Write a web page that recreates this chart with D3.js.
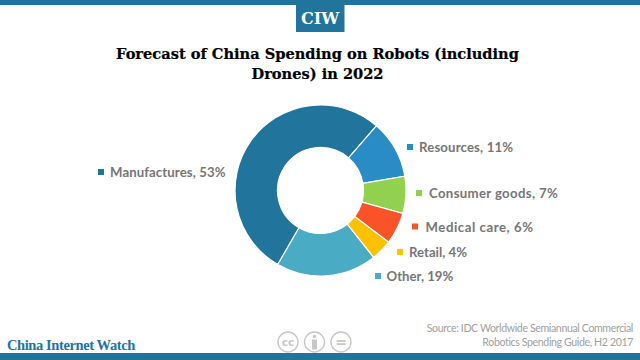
<!DOCTYPE html>
<html>
<head>
<meta charset="utf-8">
<script src="https://cdn.jsdelivr.net/npm/d3@7"></script>
<style>
  html, body { margin: 0; padding: 0; background: #fff; overflow: hidden; }
  svg { display: block; }
</style>
</head>
<body>
<div id="chart"></div>
<script>

const width = 640,
  height = 360;

const categories = [ 'Manufactures', 'Resources', 'Consumer goods', 'Medical care', 'Retail', 'Other' ];
const shares = [ 53, 11, 7, 6, 4, 19 ];

const titleLines = [ 'Forecast of China Spending on Robots (including', 'Drones) in 2022' ];
const sourceLines = [ 'Source: IDC Worldwide Semiannual Commercial', 'Robotics Spending Guide, H2 2017' ];

const colors = [ '#21749b', '#2a8cc4', '#92d050', '#fa5229', '#ffc000', '#4aabc5' ];
const teal = '#21749b';

// hand placed label spots, [ marker x, text x, baseline y, letter spacing ]
const labelSpots = [
  [ 101, 110, 177, 0.1 ],
  [ 410, 419, 152, 0.15 ],
  [ 419, 429, 198, 0.35 ],
  [ 415, 425.5, 231.5, 0.55 ],
  [ 400, 409, 257, 0 ],
  [ 378, 386.5, 281, 0 ]
];

const svg = d3.select( '#chart' )
  .append( 'svg' )
    .attr( 'width', width )
    .attr( 'height', height );

// Top and bottom bands
svg.append( 'rect' )
  .attr( 'width', width )
  .attr( 'height', 5 )
  .attr( 'fill', teal );

svg.append( 'rect' )
  .attr( 'y', 353 )
  .attr( 'width', width )
  .attr( 'height', 7 )
  .attr( 'fill', teal );

// Logo
svg.append( 'rect' )
  .attr( 'x', 296 )
  .attr( 'y', 4 )
  .attr( 'width', 48.5 )
  .attr( 'height', 28 )
  .attr( 'fill', teal );

svg.append( 'text' )
  .attr( 'x', 320 )
  .attr( 'y', 24 )
  .attr( 'text-anchor', 'middle' )
  .attr( 'font-family', '"DejaVu Serif"' )
  .attr( 'font-weight', 'bold' )
  .attr( 'font-size', 16 )
  .attr( 'fill', '#fff' )
  .text( 'CIW' );

// Title
svg.selectAll( 'text.title' )
  .data( titleLines )
  .enter()
    .append( 'text' )
    .attr( 'class', 'title' )
    .attr( 'x', 317.5 )
    .attr( 'y', ( d, i ) => 58.5 + i * 20 )
    .attr( 'text-anchor', 'middle' )
    .attr( 'font-family', '"DejaVu Serif"' )
    .attr( 'font-weight', 'bold' )
    .attr( 'font-size', 14.6 )
    .attr( 'fill', '#000' )
    .attr( 'stroke', '#000' )
    .attr( 'stroke-width', 0.2 )
    .text( d => d );

// Donut, Manufactures starts at 210 degrees clockwise from top
const pie = d3.pie()
  .sort( null )
  .startAngle( 210 * Math.PI / 180 )
  .endAngle( 570 * Math.PI / 180 )
  .value( d => d );

const arc = d3.arc()
  .innerRadius( 43 )
  .outerRadius( 85.5 );

const g = svg.append( 'g' )
  .attr( 'transform', 'translate(320.5,190.5)' );

g.selectAll( 'path' )
  .data( pie( shares ) )
  .enter()
    .append( 'path' )
    .attr( 'd', arc )
    .attr( 'fill', ( d, i ) => colors[ i ] )
    .attr( 'stroke', '#fff' )
    .attr( 'stroke-width', 1.2 );

// Labels
svg.selectAll( 'rect.marker' )
  .data( categories )
  .enter()
    .append( 'rect' )
    .attr( 'class', 'marker' )
    .attr( 'x', ( d, i ) => labelSpots[ i ][ 0 ] - 3 )
    .attr( 'y', ( d, i ) => labelSpots[ i ][ 2 ] - 8 )
    .attr( 'width', 6 )
    .attr( 'height', 6 )
    .attr( 'fill', ( d, i ) => colors[ i ] );

svg.selectAll( 'text.label' )
  .data( categories )
  .enter()
    .append( 'text' )
    .attr( 'class', 'label' )
    .attr( 'x', ( d, i ) => labelSpots[ i ][ 1 ] )
    .attr( 'y', ( d, i ) => labelSpots[ i ][ 2 ] )
    .attr( 'font-family', 'Lato' )
    .attr( 'font-weight', 'bold' )
    .attr( 'font-size', 13.2 )
    .attr( 'letter-spacing', ( d, i ) => labelSpots[ i ][ 3 ] )
    .attr( 'fill', '#767676' )
    .text( ( d, i ) => d + ', ' + shares[ i ] + '%' );

// Footer
svg.append( 'text' )
  .attr( 'x', 7 )
  .attr( 'y', 350 )
  .attr( 'font-family', '"Liberation Serif"' )
  .attr( 'font-weight', 'bold' )
  .attr( 'font-size', 14.5 )
  .attr( 'letter-spacing', -0.4 )
  .attr( 'fill', teal )
  .text( 'China Internet Watch' );

svg.selectAll( 'text.source' )
  .data( sourceLines )
  .enter()
    .append( 'text' )
    .attr( 'class', 'source' )
    .attr( 'x', 633 )
    .attr( 'y', ( d, i ) => 332 + i * 14 )
    .attr( 'text-anchor', 'end' )
    .attr( 'font-family', 'Lato' )
    .attr( 'font-size', 10.6 )
    .attr( 'letter-spacing', -0.38 )
    .attr( 'fill', '#a0a0a0' )
    .text( d => d );

// Licence badges
const badges = [ 'cc', 'by', '=' ];
const badge = svg.selectAll( 'g.badge' )
  .data( badges )
  .enter()
    .append( 'g' )
    .attr( 'class', 'badge' )
    .attr( 'transform', ( d, i ) => 'translate(' + ( 288 + i * 26.5 ) + ',342)' );

badge.append( 'circle' )
  .attr( 'r', 10 )
  .attr( 'fill', '#fff' )
  .attr( 'stroke', '#c8c8c8' )
  .attr( 'stroke-width', 1.4 );

badge.filter( d => d !== 'by' )
  .append( 'text' )
  .attr( 'y', d => d === 'cc' ? 3.5 : 5 )
  .attr( 'text-anchor', 'middle' )
  .attr( 'font-family', '"DejaVu Sans"' )
  .attr( 'font-weight', 'bold' )
  .attr( 'font-size', d => d === 'cc' ? 10.5 : 14 )
  .attr( 'fill', '#c8c8c8' )
  .text( d => d );

const person = badge.filter( d => d === 'by' );
person.append( 'circle' )
  .attr( 'cy', -5.5 )
  .attr( 'r', 1.8 )
  .attr( 'fill', '#c8c8c8' );
person.append( 'rect' )
  .attr( 'x', -2.5 )
  .attr( 'y', -2.5 )
  .attr( 'width', 5 )
  .attr( 'height', 10 )
  .attr( 'fill', '#c8c8c8' );

</script>
</body>
</html>
